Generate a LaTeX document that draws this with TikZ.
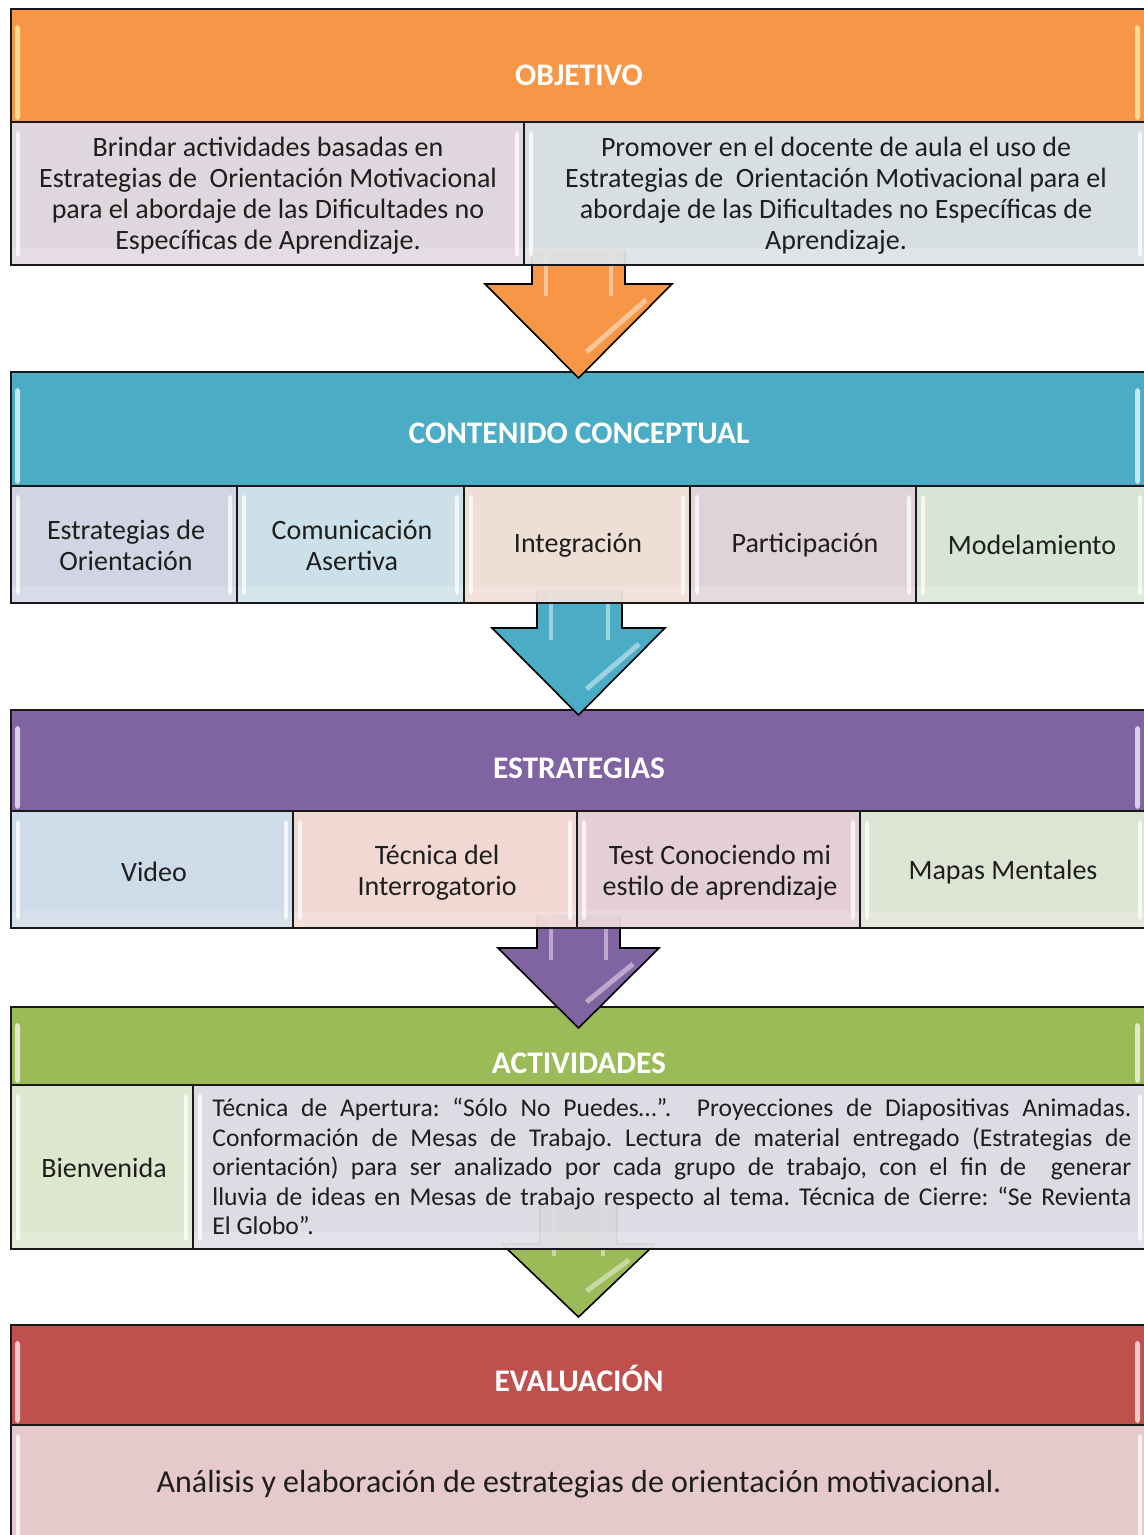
\documentclass[tikz,border=0pt]{standalone}
\usepackage{fontspec}
\setmainfont{Carlito}
\frenchspacing
\definecolor{txt}{HTML}{1E1E1E}
\definecolor{orgH}{HTML}{F79646}
\definecolor{c11}{HTML}{DFD4DB}
\definecolor{c12}{HTML}{D5DEE1}
\definecolor{bluH}{HTML}{4BACC6}
\definecolor{c21}{HTML}{CFD3E2}
\definecolor{c22}{HTML}{C8DFE8}
\definecolor{c23}{HTML}{EEDCD3}
\definecolor{c24}{HTML}{DED0D6}
\definecolor{c25}{HTML}{D5E5D2}
\definecolor{purH}{HTML}{8064A2}
\definecolor{c31}{HTML}{CBD9E7}
\definecolor{c32}{HTML}{F1D6D0}
\definecolor{c33}{HTML}{E3CDD4}
\definecolor{c34}{HTML}{DCE3D2}
\definecolor{grnH}{HTML}{9BBB59}
\definecolor{c41}{HTML}{DCE6CB}
\definecolor{c42}{HTML}{DCD9E4}
\definecolor{redH}{HTML}{C0504D}
\definecolor{c51}{HTML}{E5C7C8}
% cell background with bevel highlights: x1 y1 x2 y2 colour
\newcommand\cellbg[5]{%
  \fill[#5, fill opacity=0.94] (#1,#2) rectangle (#3,#4);
  \fill[white, opacity=0.18] (#1,{#4-17}) rectangle (#3,#4);
  \fill[white, opacity=0.75, rounded corners=1.5pt] ({#1+5},{#2+9}) rectangle ({#1+9},{#4-8});
  \fill[white, opacity=0.75, rounded corners=1.5pt] ({#3-9},{#2+9}) rectangle ({#3-5},{#4-8});
}
% header background: y1 y2 colour highlight
\newcommand\headbg[4]{%
  \fill[#3] (11,#1) rectangle (1147,#2);
  \fill[#4, opacity=0.7, rounded corners=1.5pt] (15,{#1+16}) rectangle (20,{#2-2});
  \fill[#4, opacity=0.7, rounded corners=1.5pt] (1135,{#1+16}) rectangle (1140,{#2-2});
  \draw[gridline] (1147,#2) -- (11,#2) -- (11,#1) -- (1147,#1);
}
% block arrow: shaft-left shaft-right shaft-top head-top head-left head-right tip-y colour
\newcommand\blockarrow[8]{%
  \filldraw[fill=#8, draw=black, line width=0.8pt, line join=miter]
    (#1,#3) -- (#1,#4) -- (#5,#4) -- ({(#5+#6)/2},#7) -- (#6,#4) -- (#2,#4) -- (#2,#3);
  \draw[white, opacity=0.45, line width=2pt] ({#1+14},#3) -- ({#1+14},{#4+12});
  \draw[white, opacity=0.45, line width=2pt] ({#2-14},#3) -- ({#2-14},{#4+12});
  \draw[white, opacity=0.45, line width=2.5pt] ({#6-26},{#4+16}) -- ({(#5+#6)/2+8},{#7-26});
}
\newcommand\jline[1]{\makebox[459.5pt][s]{#1}}
\begin{document}
\begin{tikzpicture}[x=0.5pt,y=-0.5pt,
  hdr/.style={font=\fontsize{15.7}{18}\selectfont\bfseries, text=white, inner sep=0pt},
  body/.style={font=\fontsize{14}{15.5}\selectfont, text=txt, align=center, inner sep=0pt},
  para/.style={font=\fontsize{12.8}{14.75}\selectfont, text=txt, align=left, inner sep=0pt, text width=459.5pt},
  big/.style={font=\fontsize{16}{18}\selectfont, text=txt, inner sep=0pt},
  gridline/.style={draw=black!90, line width=1.1pt},
]
\useasboundingbox (0,0) rectangle (1144,1535);
\clip (0,0) rectangle (1144,1535);
\fill[white] (0,0) rectangle (1144,1535);

% ---------- headers ----------
\headbg{9}{122}{orgH}{yellow!30}
\node[hdr] (hObj) at (579,75) {OBJETIVO};
\headbg{372}{486}{bluH}{white}
\node[hdr] (hCon) at (579,433) {CONTENIDO CONCEPTUAL};
\headbg{710}{811}{purH}{white}
\node[hdr] (hEst) at (579,768) {ESTRATEGIAS};
\headbg{1007}{1085}{grnH}{white}
\node[hdr] (hAct) at (579,1063) {ACTIVIDADES};
\headbg{1325}{1425}{redH}{white}
\node[hdr] (hEva) at (579,1378) {EVALUACIÓN};

% ---------- arrows ----------
\blockarrow{532}{625}{250}{284}{485}{672}{378}{orgH}
\blockarrow{537}{622}{590}{628}{492}{665}{715}{bluH}
\blockarrow{537}{620}{915}{948}{498}{659}{1028}{purH}
\blockarrow{540}{617}{1205}{1244}{502}{655}{1317}{grnH}

% ---------- OBJETIVO row ----------
\cellbg{11}{122}{524}{265}{c11}
\cellbg{524}{122}{1147}{265}{c12}
\node[body] (o1) at (268,196) {Brindar actividades basadas en\\Estrategias de\ \ Orientación Motivacional\\para el abordaje de las Dificultades no\\Específicas de Aprendizaje.};
\node[body] (o2) at (836,196) {Promover en el docente de aula el uso de\\Estrategias de\ \ Orientación Motivacional para el\\abordaje de las Dificultades no Específicas de\\Aprendizaje.};
\draw[gridline] (11,122) rectangle (1147,265);
\draw[gridline] (524,122) -- (524,265);

% ---------- CONTENIDO row ----------
\cellbg{11}{486}{237}{603}{c21}
\cellbg{237}{486}{464}{603}{c22}
\cellbg{464}{486}{690}{603}{c23}
\cellbg{690}{486}{916}{603}{c24}
\cellbg{916}{486}{1147}{603}{c25}
\node[body] (k1) at (126,545) {Estrategias de\\Orientación};
\node[body] (k2) at (352,545) {Comunicación\\Asertiva};
\node[body] (k3) at (578,545) {Integración};
\node[body] (k4) at (805,545) {Participación};
\node[body] (k5) at (1032,545) {Modelamiento};
\draw[gridline] (11,486) rectangle (1147,603);
\foreach \xx in {237,464,690,916} \draw[gridline] (\xx,486) -- (\xx,603);

% ---------- ESTRATEGIAS row ----------
\cellbg{11}{811}{293}{928}{c31}
\cellbg{293}{811}{577}{928}{c32}
\cellbg{577}{811}{860}{928}{c33}
\cellbg{860}{811}{1147}{928}{c34}
\node[body] (e1) at (154,872) {Video};
\node[body] (e2) at (437,873) {Técnica del\\Interrogatorio};
\node[body] (e3) at (720,873) {Test Conociendo mi\\estilo de aprendizaje};
\node[body] (e4) at (1003,872) {Mapas Mentales};
\draw[gridline] (11,811) rectangle (1147,928);
\foreach \xx in {293,577,860} \draw[gridline] (\xx,811) -- (\xx,928);

% ---------- ACTIVIDADES row ----------
\cellbg{11}{1085}{193}{1249}{c41}
\cellbg{193}{1085}{1147}{1249}{c42}
\node[body] (a1) at (104,1168) {Bienvenida};
\node[para, anchor=north west] (a2) at (212,1098) {\spaceskip=0pt\xspaceskip=0pt%
\jline{Técnica de Apertura: “Sólo No Puedes…”.\ \ Proyecciones de Diapositivas Animadas.}\\
\jline{Conformación de Mesas de Trabajo. Lectura de material entregado (Estrategias de}\\
\jline{orientación) para ser analizado por cada grupo de trabajo, con el fin de\ \ generar}\\
\jline{lluvia de ideas en Mesas de trabajo respecto al tema. Técnica de Cierre: “Se Revienta}\\
El Globo”.};
\draw[gridline] (11,1085) rectangle (1147,1249);
\draw[gridline] (193,1085) -- (193,1249);

% ---------- EVALUACIÓN row ----------
\cellbg{11}{1425}{1147}{1560}{c51}
\node[big] (v1) at (579,1484) {Análisis y elaboración de estrategias de orientación motivacional.};
\draw[gridline] (11,1560) -- (11,1425) -- (1147,1425);
\end{tikzpicture}
\end{document}
